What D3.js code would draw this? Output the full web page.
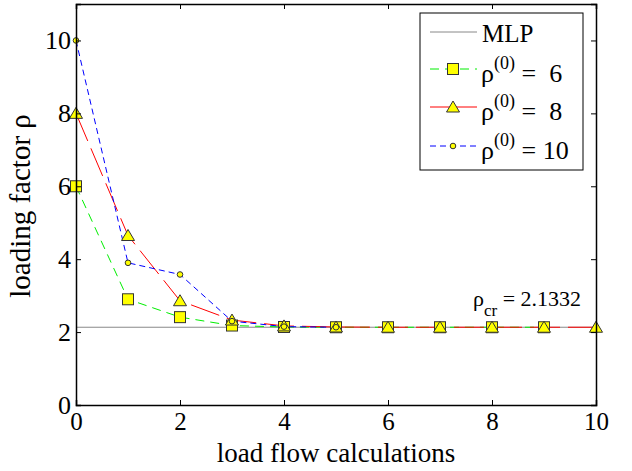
<!DOCTYPE html>
<html lang="en">
<head>
<meta charset="utf-8">
<title>loading factor</title>
<script src="https://cdn.jsdelivr.net/npm/d3@7"></script>
<style>
  body { margin: 0; background: #fff; }
  text { font-family: "Liberation Serif", "Times New Roman", serif; fill: #000; white-space: pre; }
</style>
</head>
<body>
<div id="chart"></div>
<script>
// data
var steps6 = [0, 1, 2, 3, 4, 5, 6, 7, 8, 9];
var rho6 = [6, 2.9, 2.41, 2.18, 2.14, 2.133, 2.133, 2.133, 2.133, 2.133];
var steps8 = [0, 1, 2, 3, 4, 5, 6, 7, 8, 9, 10];
var rho8 = [8, 4.65, 2.86, 2.33, 2.17, 2.14, 2.133, 2.133, 2.133, 2.133, 2.133];
var steps10 = [0, 1, 2, 3, 4, 5];
var rho10 = [10, 3.9, 3.58, 2.3, 2.15, 2.133];
var rhoCr = 2.1332;
var xTicks = [0, 2, 4, 6, 8, 10];
var yTicks = [0, 2, 4, 6, 8, 10];
var legendLabels = ["MLP", " =  6", " =  8", " = 10"];

var W = 632, H = 471;
var margin = {top: 4, right: 36, bottom: 66, left: 76};
var width = W - margin.left - margin.right,
    height = H - margin.top - margin.bottom;

var svg = d3.select("#chart").append("svg")
    .attr("width", W).attr("height", H);
var g = svg.append("g")
    .attr("transform", "translate(" + margin.left + "," + margin.top + ")");

var x = d3.scaleLinear().domain([0, 10]).range([0, width]);
var y = d3.scaleLinear().domain([0, 11]).range([height, 0]);

// MLP line
g.append("line")
    .attr("x1", x(0)).attr("x2", x(10))
    .attr("y1", y(rhoCr)).attr("y2", y(rhoCr))
    .style("stroke", "#888").style("stroke-width", 1);

var series = [
  {xs: steps6, ys: rho6, color: "#00ee00", dash: "9,6", legDash: "9,6", marker: "square", label: legendLabels[1]},
  {xs: steps8, ys: rho8, color: "#ff0000", dash: "30,8", legDash: null, marker: "triangle", label: legendLabels[2]},
  {xs: steps10, ys: rho10, color: "#0000ff", dash: "6,4", legDash: "6,4", marker: "circle", label: legendLabels[3]}
];

var line = d3.line().x(function(d) { return x(d[0]); }).y(function(d) { return y(d[1]); });

function drawMarker(sel, type, cx, cy) {
  if (type === "square") {
    sel.append("rect").attr("x", cx - 5.5).attr("y", cy - 5.5).attr("width", 11).attr("height", 11)
      .style("fill", "#ffff00").style("stroke", "#333").style("stroke-width", 1);
  } else if (type === "triangle") {
    sel.append("path")
      .attr("d", "M" + cx + "," + (cy - 6) + "L" + (cx + 6.5) + "," + (cy + 5) + "L" + (cx - 6.5) + "," + (cy + 5) + "Z")
      .style("fill", "#ffff00").style("stroke", "#333").style("stroke-width", 1);
  } else {
    sel.append("circle").attr("cx", cx).attr("cy", cy).attr("r", 2.8)
      .style("fill", "#ffff00").style("stroke", "#333").style("stroke-width", 1);
  }
}

series.forEach(function(s) {
  var pts = s.xs.map(function(v, i) { return [v, s.ys[i]]; });
  g.append("path").datum(pts)
    .attr("d", line)
    .style("fill", "none").style("stroke", s.color).style("stroke-width", 1)
    .style("stroke-dasharray", s.dash);
});
series.forEach(function(s) {
  var mg = g.append("g");
  s.xs.forEach(function(v, i) { drawMarker(mg, s.marker, x(v), y(s.ys[i])); });
});

// axes with inward ticks on all sides
g.append("g").attr("transform", "translate(0," + height + ")")
  .call(d3.axisBottom(x).tickValues(xTicks).tickSize(-5).tickPadding(7))
  .call(function(a) { a.selectAll("text").style("font-size", "25px").attr("dy", "0.71em"); });
g.append("g")
  .call(d3.axisLeft(y).tickValues(yTicks).tickSize(-5).tickPadding(5))
  .call(function(a) { a.selectAll("text").style("font-size", "26px"); });
g.append("g")
  .call(d3.axisTop(x).tickValues(xTicks).tickSize(-5).tickFormat(""));
g.append("g").attr("transform", "translate(" + width + ",0)")
  .call(d3.axisRight(y).tickValues(yTicks).tickSize(-5).tickFormat(""));
g.selectAll(".domain").style("stroke", "#000").style("stroke-width", 1.5);
g.selectAll(".tick line").style("stroke", "#000");
g.selectAll(".tick text").style("font-family", "Liberation Serif");

// axis titles
svg.append("text")
  .attr("x", margin.left + width / 2).attr("y", 462)
  .attr("text-anchor", "middle").style("font-size", "27px")
  .text("load flow calculations");
svg.append("text")
  .attr("transform", "translate(30,206) rotate(-90)")
  .attr("text-anchor", "middle").style("font-size", "29px")
  .text("loading factor ρ");

// rho_cr annotation
var ann = svg.append("text")
  .attr("x", 473).attr("y", 306)
  .style("font-size", "22px");
ann.append("tspan").text("ρ");
ann.append("tspan").attr("dy", 10).style("font-size", "17px").text("cr");
ann.append("tspan").attr("dy", -10).text(" = 2.1332");

// legend
var lg = svg.append("g").attr("transform", "translate(420,13)");
lg.append("rect").attr("width", 163).attr("height", 157)
  .style("fill", "#fff").style("stroke", "#000").style("stroke-width", 1);
lg.append("line").attr("x1", 10).attr("x2", 57).attr("y1", 19).attr("y2", 19)
  .style("stroke", "#888");
lg.append("text").attr("x", 62).attr("y", 29).style("font-size", "25px").text(legendLabels[0]);
var rowsY = [56, 94, 133];
series.forEach(function(s, i) {
  var ry = rowsY[i];
  lg.append("line").attr("x1", 10).attr("x2", 57).attr("y1", ry).attr("y2", ry)
    .style("stroke", s.color).style("stroke-dasharray", s.legDash);
  drawMarker(lg, s.marker, 33, ry);
  var t = lg.append("text").attr("x", 61).attr("y", ry + 13).style("font-size", "26px");
  t.append("tspan").text("ρ");
  t.append("tspan").attr("dy", -13).style("font-size", "18px").text("(0)");
  t.append("tspan").attr("dy", 13).text(s.label);
});
</script>
</body>
</html>
